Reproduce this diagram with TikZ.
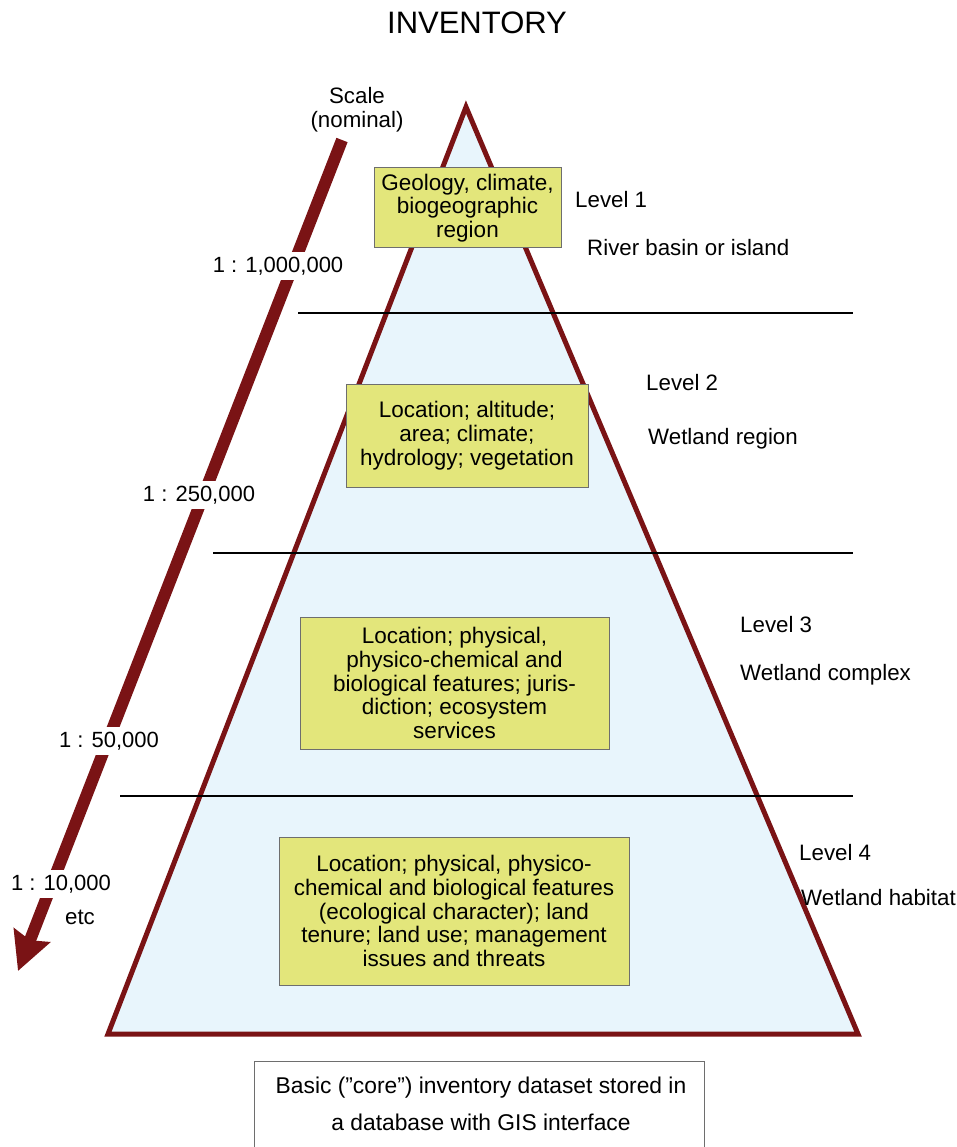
\documentclass[tikz,border=0pt]{standalone}
\usepackage{fontspec}
\setmainfont{Liberation Sans}
\usetikzlibrary{arrows.meta}

\definecolor{rim}{HTML}{7A1315}
\definecolor{sky}{HTML}{E8F5FC}
\definecolor{straw}{HTML}{E3E67B}
\definecolor{edge}{HTML}{6E6E6E}

\begin{document}
\begin{tikzpicture}[x=1pt,y=-1pt,
  txt/.style={font=\fontsize{22.3}{23.7}\selectfont, inner sep=0pt},
  infobox/.style={draw=edge, line width=1pt, fill=straw, align=center,
    font=\fontsize{22.5}{23.7}\selectfont, inner sep=0pt},
  scalelbl/.style={font=\fontsize{22}{23.7}\selectfont, fill=white,
    inner xsep=2pt, inner ysep=5pt},
  divider/.style={black, line width=1.2pt},
  scalearrow/.style={rim, line width=12pt,
    -{Stealth[length=38pt,width=38pt,inset=5pt]}}]

\useasboundingbox (0,0) rectangle (957,1147);

% title
\node[font=\fontsize{31}{34}\selectfont, inner sep=0pt] (title) at (477,23) {INVENTORY};

% pyramid
\coordinate (apex) at (466,107);
\coordinate (bl) at (108,1034);
\coordinate (br) at (858,1034);
\draw[rim, line width=5pt, fill=sky, line join=miter] (apex) -- (bl) -- (br) -- cycle;

% level dividers
\coordinate (d1a) at (298,313); \coordinate (d1b) at (853,313);
\coordinate (d2a) at (213,553); \coordinate (d2b) at (853,553);
\coordinate (d3a) at (120,796); \coordinate (d3b) at (853,796);
\draw[divider] (d1a) -- (d1b);
\draw[divider] (d2a) -- (d2b);
\draw[divider] (d3a) -- (d3b);

% content boxes
\node[infobox, minimum width=187pt, minimum height=80pt] (box1) at (467.5,208)
  {Geology, climate,\\biogeographic\\region};
\node[infobox, minimum width=242pt, minimum height=103pt] (box2) at (467,435.5)
  {Location; altitude;\\area; climate;\\hydrology; vegetation};
\node[infobox, minimum width=309pt, minimum height=132pt] (box3) at (454.5,683)
  {Location; physical,\\physico-chemical and\\biological features; juris-\\diction; ecosystem\\services};
\node[infobox, minimum width=350pt, minimum height=148pt] (box4) at (454,911)
  {Location; physical, physico-\\chemical and biological features\\(ecological character); land\\tenure; land use; management\\issues and threats};

% level names
\node[txt, anchor=base west] (lv1) at (575,208) {Level 1};
\node[txt, anchor=base west] (lv1n) at (587,256) {River basin or island};
\node[txt, anchor=base west] (lv2) at (646,390) {Level 2};
\node[txt, anchor=base west] (lv2n) at (648,444) {Wetland region};
\node[txt, anchor=base west] (lv3) at (740,632) {Level 3};
\node[txt, anchor=base west] (lv3n) at (740,680) {Wetland complex};
\node[txt, anchor=base west] (lv4) at (799,860) {Level 4};
\node[txt, anchor=base west] (lv4n) at (801,905) {Wetland habitat};

% scale arrow
\node[txt, align=center] (scale) at (357,110) {Scale\\(nominal)};
\coordinate (arrowtop) at (342,140);
\coordinate (arrowtip) at (18,971);
\draw[scalearrow] (arrowtop) -- (arrowtip);

\node[scalelbl] (s1) at (278,266) {1 : 1,000,000};
\node[scalelbl] (s2) at (199,495) {1 : 250,000};
\node[scalelbl] (s3) at (109,741) {1 : 50,000};
\node[scalelbl] (s4) at (61,884) {1 : 10,000};
\node[txt] (s5) at (80,917) {etc};

% core dataset
\node[draw=edge, line width=1pt, minimum width=450pt, minimum height=100pt,
  anchor=north] (corebox) at (479,1061) {};
\node[font=\fontsize{22.8}{37}\selectfont, align=center, inner sep=0pt] (coretext) at (481,1104)
  {Basic (”core”) inventory dataset stored in\\a database with GIS interface};
\end{tikzpicture}
\end{document}
